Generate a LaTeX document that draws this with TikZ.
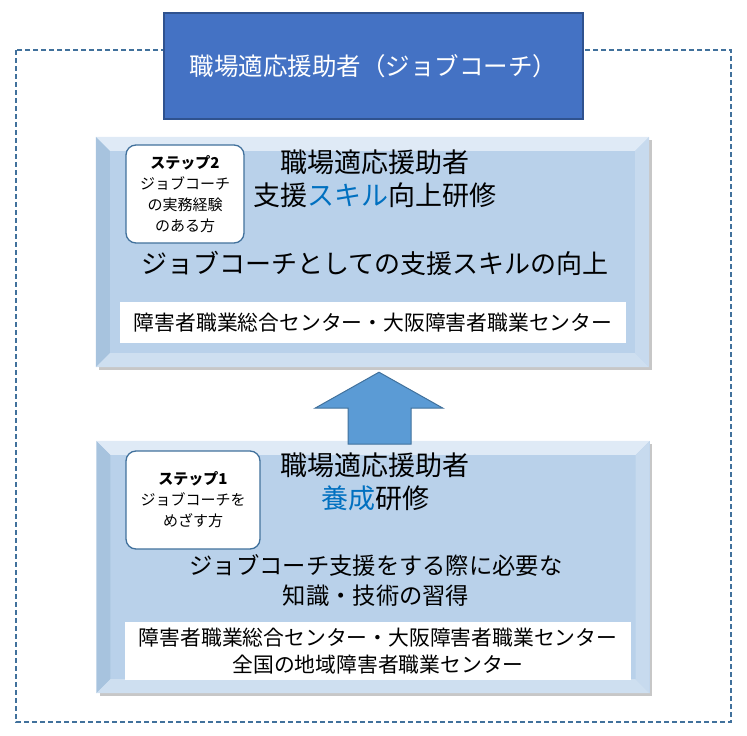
\documentclass[tikz,border=0pt]{standalone}
\usepackage{fontspec}
\newfontfamily\jp{Noto Sans CJK JP}
\usetikzlibrary{calc,positioning}
\definecolor{jcnavy}{HTML}{4472C4}
\definecolor{jcedge}{HTML}{2F528F}
\definecolor{jcdash}{HTML}{41719C}
\definecolor{jcpanel}{HTML}{B9D1EA}
\definecolor{jcarrow}{HTML}{5B9BD5}
\definecolor{jcblue}{HTML}{0070C0}

\begin{document}
\begin{tikzpicture}[x=1pt, y=-1pt,
  every node/.style={font=\jp, inner sep=0pt, align=center},
  panel/.style={fill=jcpanel, minimum width=553pt},
  shade/.style={fill=black, opacity=0.22},
  bevtop/.style={fill=jcpanel!45!white},
  bevleft/.style={fill=jcpanel!85!jcdash},
  bevbottom/.style={fill=jcpanel!70!white},
  bevright/.style={fill=jcpanel!80!white},
  stepbox/.style={fill=white, draw=jcdash, line width=1.3pt, rounded corners=10pt,
    font=\jp\fontsize{15}{21}\selectfont},
  strip/.style={fill=white, minimum width=506pt, font=\jp\fontsize{20.8}{27}\selectfont}]

  \useasboundingbox (0,0) rectangle (747,736);

  % ---- Outer dashed frame ----
  \draw[jcdash, line width=1.3pt, dash pattern=on 5pt off 3pt] (16,50) rectangle (731,722);

  % ---- Title box ----
  \node[fill=jcnavy, draw=jcedge, line width=1.5pt, minimum width=419pt, minimum height=106pt,
    text=white, font=\jp\fontsize{24.5}{30}\selectfont] (title) at (373.5,66)
    {職場適応援助者（ジョブコーチ）};

  % ---- Step 2 panel (top) ----
  \fill[shade] (99,140) rectangle (652,370);
  \node[panel, minimum height=230pt] (up) at (372.5,252) {};
  \fill[bevtop] (up.north west) -- (up.north east) -- ($(up.north east)+(-14,14)$) -- ($(up.north west)+(14,14)$) -- cycle;
  \fill[bevleft] (up.north west) -- ($(up.north west)+(14,14)$) -- ($(up.south west)+(14,-14)$) -- (up.south west) -- cycle;
  \fill[bevbottom] (up.south west) -- ($(up.south west)+(14,-14)$) -- ($(up.south east)+(-14,-14)$) -- (up.south east) -- cycle;
  \fill[bevright] (up.north east) -- ($(up.north east)+(-14,14)$) -- ($(up.south east)+(-14,-14)$) -- (up.south east) -- cycle;

  \node[stepbox, minimum width=118pt, minimum height=98pt] (step2) at (185,194)
    {\textbf{ステップ2}\\ジョブコーチ\\の実務経験\\のある方};
  \node[font=\jp\fontsize{27}{33}\selectfont] (uptitle) at (375,178.5)
    {職場適応援助者\\支援\textcolor{jcblue}{スキル}向上研修};
  \node[font=\jp\fontsize{26}{30}\selectfont] (updesc) at (375,263)
    {ジョブコーチとしての支援スキルの向上};
  \node[strip, minimum height=41pt] (upcenter) at (373,322.5)
    {障害者職業総合センター・大阪障害者職業センター};

  % ---- Step 1 panel (bottom) ----
  \fill[shade] (100,444) rectangle (652,696);
  \node[panel, minimum height=252pt] (low) at (373,567) {};
  \fill[bevtop] (low.north west) -- (low.north east) -- ($(low.north east)+(-14,14)$) -- ($(low.north west)+(14,14)$) -- cycle;
  \fill[bevleft] (low.north west) -- ($(low.north west)+(14,14)$) -- ($(low.south west)+(14,-14)$) -- (low.south west) -- cycle;
  \fill[bevbottom] (low.south west) -- ($(low.south west)+(14,-14)$) -- ($(low.south east)+(-14,-14)$) -- (low.south east) -- cycle;
  \fill[bevright] (low.north east) -- ($(low.north east)+(-14,14)$) -- ($(low.south east)+(-14,-14)$) -- (low.south east) -- cycle;

  \node[stepbox, minimum width=134pt, minimum height=98pt] (step1) at (193,500)
    {\textbf{ステップ1}\\ジョブコーチを\\めざす方};
  \node[font=\jp\fontsize{27}{33}\selectfont] (lowtitle) at (375,481.5)
    {職場適応援助者\\\textcolor{jcblue}{養成}研修};
  \node[font=\jp\fontsize{23.3}{30}\selectfont] (lowdesc) at (376,580)
    {ジョブコーチ支援をする際に必要な\\知識・技術の習得};
  \node[strip, minimum height=58pt] (lowcenter) at (378,651)
    {障害者職業総合センター・大阪障害者職業センター\\全国の地域障害者職業センター};

  % ---- Block arrow: step 1 -> step 2 ----
  \coordinate (tip) at ($(up.south)+(6.5,5)$);
  \draw[fill=jcarrow, draw=jcdash, line width=1pt, line join=miter]
    (tip) -- ++(64,36) -- ++(-32,0) -- ++(0,36) -- ++(-63,0) -- ++(0,-36) -- ++(-33,0) -- cycle;

\end{tikzpicture}
\end{document}
